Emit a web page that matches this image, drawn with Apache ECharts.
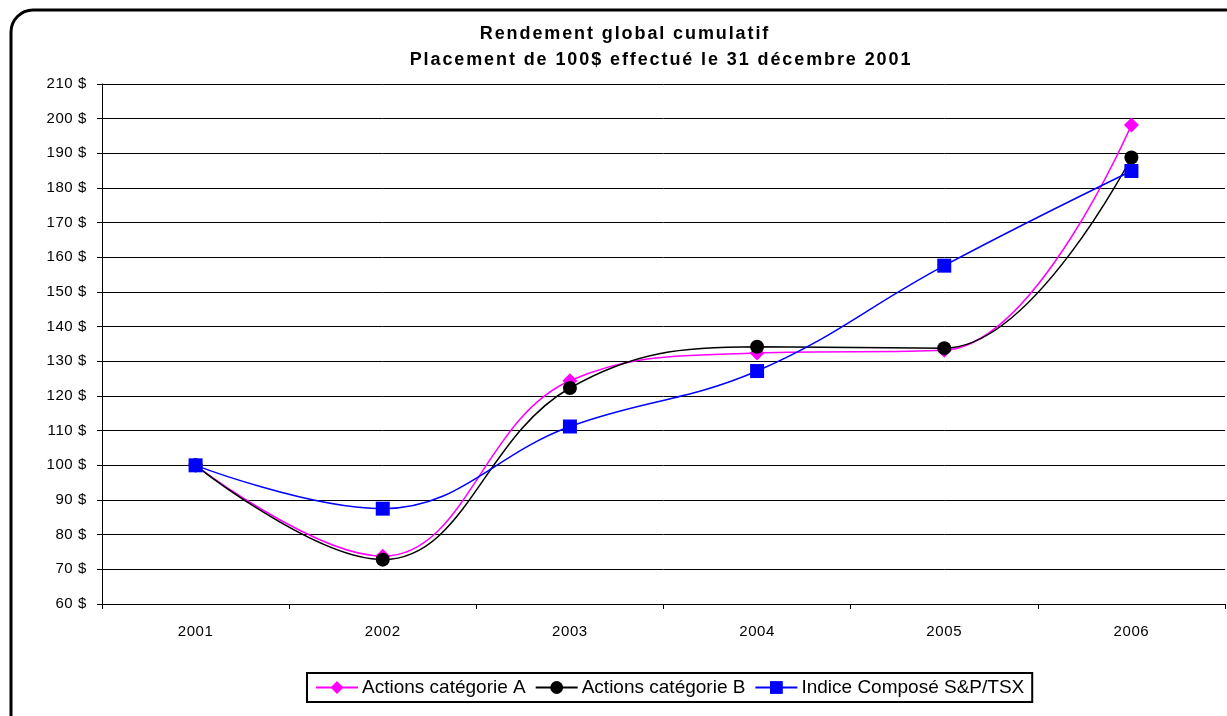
<!DOCTYPE html>
<html><head><meta charset="utf-8">
<script src="https://cdn.jsdelivr.net/npm/echarts@6/dist/echarts.min.js"></script>
<style>html,body{margin:0;padding:0;background:#fff}#c{width:1227px;height:716px}</style>
</head><body><div id="c"></div>
<script>
const categories = ['2001','2002','2003','2004','2005','2006'];
const seriesA = [100, 73.8, 124.4, 132.4, 133.2, 198.2];
const seriesB = [100, 72.8, 122.3, 134.2, 133.8, 188.8];
const seriesTSX = [100, 87.5, 111.2, 127.2, 157.6, 184.9];
const names = ['Actions catégorie A', 'Actions catégorie B', 'Indice Composé S&P/TSX'];
const titleLine1 = 'Rendement global cumulatif';
const titleLine2 = 'Placement de 100$ effectué le 31 décembre 2001';

// Excel-like letter spacing for the title and axis labels
(function () {
  const proto = CanvasRenderingContext2D.prototype;
  if (!('letterSpacing' in proto)) return;
  const orig = proto.fillText;
  proto.fillText = function (t, x, y, w) {
    const f = this.font || '';
    let sp = '0px';
    if (/bold/.test(f)) sp = '1.9px';
    else if (/\b15px/.test(f)) sp = '0.6px';
    const old = this.letterSpacing;
    this.letterSpacing = sp;
    const r = w === undefined ? orig.call(this, t, x, y) : orig.call(this, t, x, y, w);
    this.letterSpacing = old;
    return r;
  };
})();

const chart = echarts.init(document.getElementById('c'));
const font = 'Liberation Sans, Arial, sans-serif';
chart.setOption({
  animation: false,
  backgroundColor: '#fff',
  graphic: [{
    type: 'rect', z: -1,
    shape: {x: 11, y: 10, width: 1240, height: 730, r: 22},
    style: {fill: '#fff', stroke: '#000', lineWidth: 3}
  }],
  title: [{
    text: titleLine1, left: 625, top: 25, textAlign: 'center', padding: 0,
    textStyle: {fontFamily: font, fontSize: 18, fontWeight: 'bold', color: '#000', lineHeight: 18}
  }, {
    text: titleLine2, left: 661, top: 51, textAlign: 'center', padding: 0,
    textStyle: {fontFamily: font, fontSize: 18, fontWeight: 'bold', color: '#000', lineHeight: 18}
  }],
  legend: {
    top: 673, left: 307,
    data: names,
    itemWidth: 42, itemHeight: 16, itemGap: 9,
    borderColor: '#000', borderWidth: 2, padding: [5, 8, 5, 8],
    textStyle: {fontFamily: font, fontSize: 19, color: '#000', padding: [0, 0, 0, -1]}
  },
  grid: {left: 102, right: 2, top: 84, bottom: 112, containLabel: false},
  xAxis: {
    type: 'category', data: categories, boundaryGap: true,
    axisLine: {lineStyle: {color: '#000', width: 1}},
    axisTick: {show: true, inside: false, length: 5, lineStyle: {color: '#000'}},
    axisLabel: {fontFamily: font, fontSize: 15, color: '#000', margin: 20},
    splitLine: {show: false}
  },
  yAxis: {
    type: 'value', min: 60, max: 210, interval: 10,
    axisLine: {show: true, lineStyle: {color: '#000', width: 1}},
    axisTick: {show: true, length: 5, lineStyle: {color: '#000'}},
    axisLabel: {fontFamily: font, fontSize: 15, color: '#000', margin: 15, formatter: v => v + ' $'},
    splitLine: {show: true, lineStyle: {color: '#000', width: 1}}
  },
  series: [
    {name: names[0], type: 'line', data: seriesA, smooth: 0.4,
     symbol: 'diamond', symbolSize: 15, itemStyle: {color: '#ff00ff'},
     lineStyle: {color: '#ff00ff', width: 1.5}, z: 2},
    {name: names[1], type: 'line', data: seriesB, smooth: 0.4,
     symbol: 'circle', symbolSize: 14, itemStyle: {color: '#000'},
     lineStyle: {color: '#000', width: 1.5}, z: 3},
    {name: names[2], type: 'line', data: seriesTSX, smooth: 0.4,
     symbol: 'rect', symbolSize: 14, itemStyle: {color: '#0000ff'},
     lineStyle: {color: '#0000ff', width: 1.5}, z: 4}
  ]
});
</script></body></html>
